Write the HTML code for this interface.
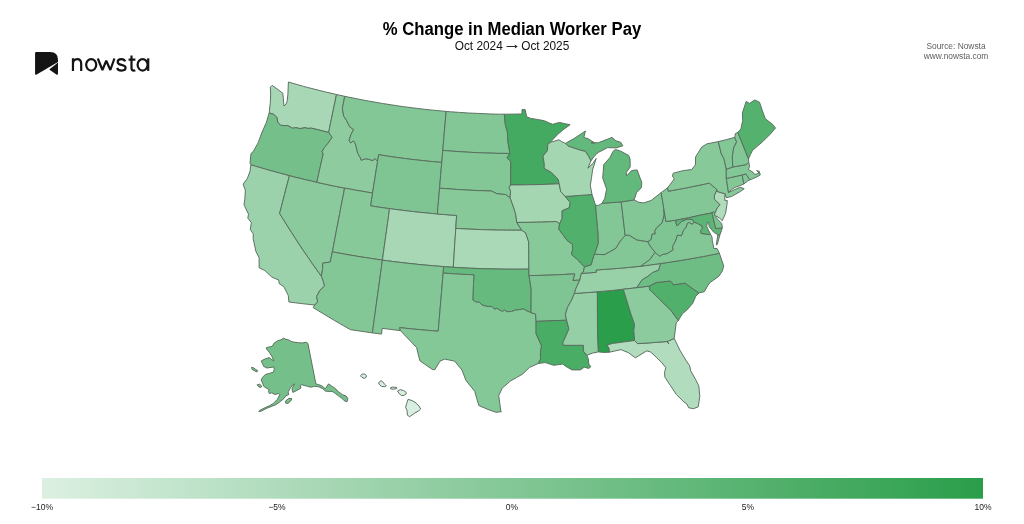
<!DOCTYPE html>
<html><head><meta charset="utf-8"><title>% Change in Median Worker Pay</title>
<style>
html,body{margin:0;padding:0;background:#fff;}
body{width:1024px;height:524px;position:relative;overflow:hidden;font-family:"Liberation Sans",sans-serif;}
svg{position:absolute;left:0;top:0;}
.title{will-change:transform;position:absolute;left:0;width:1024px;top:20.3px;transform:scaleY(1.05);transform-origin:50% 80%;text-align:center;font-weight:bold;font-size:16.7px;line-height:20px;color:#000;letter-spacing:0px;}
.sub{will-change:transform;position:absolute;left:0;width:1024px;top:39.4px;text-align:center;font-size:11.85px;line-height:14px;color:#111;}
.src{will-change:transform;position:absolute;left:895.75px;width:120px;top:40.6px;text-align:center;font-size:8.4px;line-height:10.2px;color:#5e5e5e;}
.tick{position:absolute;top:501.8px;will-change:transform;width:60px;margin-left:-30px;text-align:center;font-size:8.5px;line-height:11px;color:#1a1a1a;transform:scaleY(1.06);}
</style></head><body>
<svg width="1024" height="524" viewBox="0 0 1024 524">
<defs><linearGradient id="cb" x1="0" x2="1" y1="0" y2="0"><stop offset="0%" stop-color="#dcf0e2"/><stop offset="10%" stop-color="#cae8d3"/><stop offset="20%" stop-color="#b8e0c4"/><stop offset="30%" stop-color="#a7d7b4"/><stop offset="40%" stop-color="#95cfa5"/><stop offset="50%" stop-color="#83c796"/><stop offset="60%" stop-color="#71bf87"/><stop offset="70%" stop-color="#5fb778"/><stop offset="80%" stop-color="#4eae68"/><stop offset="90%" stop-color="#3ca659"/><stop offset="100%" stop-color="#2a9e4a"/></linearGradient></defs>
<g stroke="#586c5e" stroke-width="0.95" stroke-linejoin="round"><path fill="#a7d7b4" d="M288.4,82.0L287.9,94.1L287.2,100.8L286.0,104.1L283.9,106.0L283.4,98.8L282.7,93.1L272.2,85.3L270.3,87.2L270.7,94.1L270.3,102.7L269.2,112.9L273.5,114.3L276.8,117.2L277.8,122.4L280.6,125.3L284.0,125.6L287.8,125.6L292.5,128.2L295.9,127.7L300.2,128.6L305.0,127.7L307.8,128.4L311.6,128.2L319.3,130.1L328.8,132.5L329.4,128.6L336.5,94.5L331.0,93.2L325.6,92.0L320.1,90.6L316.0,89.6L311.9,88.5L307.7,87.5L303.6,86.4Z"/>
<path fill="#75c08a" d="M269.2,112.9L273.5,114.3L276.8,117.2L277.8,122.4L280.6,125.3L284.0,125.6L287.8,125.6L292.5,128.2L295.9,127.7L300.2,128.6L305.0,127.7L307.8,128.4L311.6,128.2L319.3,130.1L328.8,132.5L332.2,137.4L326.9,144.8L324.4,147.6L322.1,151.7L323.2,153.9L321.9,159.6L320.2,167.1L318.5,174.7L316.8,182.3L311.3,181.0L305.8,179.8L300.3,178.4L294.8,177.1L289.4,175.7L284.5,174.4L279.7,173.1L274.9,171.8L270.1,170.5L265.3,169.1L260.5,167.7L255.7,166.3L250.9,164.8L250.0,163.2L251.0,153.5L253.0,151.9L258.2,142.7L261.7,133.0L266.4,122.3Z"/>
<path fill="#9cd2ab" d="M250.9,164.8L255.7,166.3L260.5,167.7L265.3,169.1L270.1,170.5L274.9,171.8L279.7,173.1L284.5,174.4L289.4,175.7L287.8,182.0L286.1,188.2L284.5,194.5L282.9,200.8L281.3,207.1L279.6,213.4L283.5,219.7L287.5,226.1L291.5,232.4L295.6,238.7L299.7,245.0L303.9,251.3L308.2,257.5L312.5,263.8L316.9,270.0L321.4,276.2L323.0,280.5L324.6,286.0L319.9,290.4L316.6,296.4L317.7,301.9L314.7,305.0L308.2,304.3L301.8,303.6L295.3,302.8L288.9,302.0L288.3,295.6L283.8,286.6L279.1,283.5L278.8,280.1L271.9,277.1L264.9,270.6L259.1,267.7L259.1,257.7L255.9,251.4L253.1,238.5L253.3,233.9L250.3,229.6L251.3,222.5L247.8,218.1L248.5,214.2L244.0,204.8L244.9,198.3L245.3,190.2L243.1,184.1L247.3,178.6L250.0,171.3Z"/>
<path fill="#8aca9c" d="M289.4,175.7L294.8,177.1L300.3,178.4L305.8,179.8L311.3,181.0L316.8,182.3L322.3,183.5L327.9,184.7L333.4,185.9L339.0,187.0L344.6,188.1L343.4,194.5L342.1,200.8L340.9,207.2L339.7,213.6L338.5,219.9L337.2,226.3L336.0,232.7L334.8,239.1L333.6,245.5L332.3,251.8L330.3,262.0L327.0,262.5L322.7,263.2L322.7,268.5L321.4,276.2L316.9,270.0L312.5,263.8L308.2,257.5L303.9,251.3L299.7,245.0L295.6,238.7L291.5,232.4L287.5,226.1L283.5,219.7L279.6,213.4L281.3,207.1L282.9,200.8L284.5,194.5L286.1,188.2L287.8,182.0Z"/>
<path fill="#8ecc9f" d="M336.5,94.5L344.7,96.3L342.4,108.6L343.6,115.8L346.7,120.8L350.0,127.2L353.6,129.4L351.0,134.4L349.0,140.8L350.8,143.0L353.3,140.8L355.0,143.0L356.5,148.0L357.6,153.0L360.1,157.3L361.2,160.2L365.8,158.7L369.4,159.5L372.9,160.5L375.1,158.5L377.6,161.5L376.3,169.3L375.1,177.2L373.8,185.1L372.5,193.0L366.9,192.1L361.3,191.1L355.7,190.2L350.2,189.1L344.6,188.1L339.0,187.0L333.4,185.9L327.9,184.7L322.3,183.5L316.8,182.3L318.5,174.7L320.2,167.1L321.9,159.6L323.2,153.9L322.1,151.7L324.4,147.6L326.9,144.8L332.2,137.4L328.8,132.5L329.4,128.6Z"/>
<path fill="#83c796" d="M344.7,96.3L348.9,97.2L353.1,98.0L357.3,98.9L361.5,99.7L365.7,100.5L369.9,101.3L374.1,102.0L378.3,102.7L382.5,103.5L386.7,104.1L390.9,104.8L395.2,105.4L399.4,106.1L403.6,106.7L407.9,107.2L412.1,107.8L416.3,108.3L420.6,108.8L424.8,109.3L429.1,109.8L433.3,110.2L437.6,110.6L441.8,111.0L446.1,111.4L445.6,117.9L445.0,124.4L444.4,130.9L443.9,137.4L443.3,143.9L442.8,150.4L441.8,162.4L437.2,162.0L432.7,161.6L428.2,161.2L423.7,160.7L419.2,160.2L414.6,159.7L410.1,159.2L405.6,158.6L401.1,158.0L396.6,157.4L392.1,156.8L387.6,156.1L383.1,155.4L378.6,154.7L377.6,161.5L375.1,158.5L372.9,160.5L369.4,159.5L365.8,158.7L361.2,160.2L360.1,157.3L357.6,153.0L356.5,148.0L355.0,143.0L353.3,140.8L350.8,143.0L349.0,140.8L351.0,134.4L353.6,129.4L350.0,127.2L346.7,120.8L343.6,115.8L342.4,108.6Z"/>
<path fill="#7fc593" d="M441.8,162.4L437.2,162.0L432.7,161.6L428.2,161.2L423.7,160.7L419.2,160.2L414.6,159.7L410.1,159.2L405.6,158.6L401.1,158.0L396.6,157.4L392.1,156.8L387.6,156.1L383.1,155.4L378.6,154.7L377.6,161.5L376.3,169.3L375.1,177.2L373.8,185.1L372.5,193.0L371.5,199.4L370.5,205.8L375.2,206.6L380.0,207.3L384.8,208.0L389.5,208.6L394.3,209.3L399.1,209.9L403.9,210.5L408.6,211.1L413.4,211.6L418.2,212.2L423.0,212.6L427.8,213.1L432.6,213.6L437.4,214.0L437.9,207.5L438.5,201.1L439.0,194.6L439.6,188.2L440.1,181.7L440.7,175.3L441.2,168.8Z"/>
<path fill="#87c999" d="M344.6,188.1L350.2,189.1L355.7,190.2L361.3,191.1L366.9,192.1L372.5,193.0L371.5,199.4L370.5,205.8L375.2,206.6L380.0,207.3L384.8,208.0L389.5,208.6L388.7,215.1L387.8,221.5L386.9,227.9L386.0,234.4L385.1,240.8L384.2,247.2L383.3,253.7L382.4,260.1L376.8,259.3L371.3,258.5L365.7,257.6L360.1,256.8L354.5,255.8L349.0,254.9L343.4,253.9L337.9,252.9L332.3,251.8L333.6,245.5L334.8,239.1L336.0,232.7L337.2,226.3L338.5,219.9L339.7,213.6L340.9,207.2L342.1,200.8L343.4,194.5Z"/>
<path fill="#a7d7b4" d="M437.4,214.0L432.6,213.6L427.8,213.1L423.0,212.6L418.2,212.2L413.4,211.6L408.6,211.1L403.9,210.5L399.1,209.9L394.3,209.3L389.5,208.6L388.7,215.1L387.8,221.5L386.9,227.9L386.0,234.4L385.1,240.8L384.2,247.2L383.3,253.7L382.4,260.1L387.5,260.8L392.6,261.5L397.7,262.1L402.8,262.7L407.9,263.3L413.0,263.8L418.1,264.4L423.2,264.9L428.3,265.3L433.4,265.8L438.5,266.2L443.6,266.6L453.3,267.3L453.7,260.8L454.1,254.3L454.5,247.8L454.9,241.3L455.4,234.8L455.8,228.4L456.2,221.9L456.6,215.4L451.8,215.1L447.0,214.7L442.2,214.4Z"/>
<path fill="#83c796" d="M382.4,260.1L376.8,259.3L371.3,258.5L365.7,257.6L360.1,256.8L354.5,255.8L349.0,254.9L343.4,253.9L337.9,252.9L332.3,251.8L330.3,262.0L327.0,262.5L322.7,263.2L322.7,268.5L321.4,276.2L323.0,280.5L324.6,286.0L319.9,290.4L316.6,296.4L317.7,301.9L314.7,305.0L313.2,307.6L318.4,310.8L323.7,314.0L329.0,317.2L334.3,320.4L339.7,323.5L345.1,326.6L350.5,329.7L356.0,330.5L361.4,331.3L366.9,332.1L372.4,332.9L373.3,326.3L374.2,319.7L375.1,313.1L376.0,306.5L376.9,299.9L377.8,293.3L378.8,286.6L379.7,280.0L380.6,273.4L381.5,266.7Z"/>
<path fill="#83c796" d="M443.6,266.6L438.5,266.2L433.4,265.8L428.3,265.3L423.2,264.9L418.1,264.4L413.0,263.8L407.9,263.3L402.8,262.7L397.7,262.1L392.6,261.5L387.5,260.8L382.4,260.1L381.5,266.7L380.6,273.4L379.7,280.0L378.8,286.6L377.8,293.3L376.9,299.9L376.0,306.5L375.1,313.1L374.2,319.7L373.3,326.3L372.4,332.9L381.5,334.1L382.2,328.4L388.3,329.1L394.3,329.9L400.4,330.6L399.7,327.6L405.2,328.2L410.7,328.8L416.2,329.3L421.7,329.8L427.2,330.3L432.7,330.8L438.2,331.2L438.8,324.8L439.3,318.3L439.9,311.9L440.4,305.4L441.0,298.9L441.5,292.5L442.1,286.0L442.6,279.5L443.2,273.1Z"/>
<path fill="#83c796" d="M446.1,111.4L450.6,111.8L455.0,112.1L459.5,112.4L464.0,112.7L468.5,113.0L472.9,113.2L477.4,113.4L481.9,113.6L486.4,113.8L490.9,114.0L495.3,114.1L499.8,114.2L504.3,114.2L505.3,124.4L507.4,132.1L507.8,141.1L509.8,152.6L509.8,153.5L505.0,153.4L500.2,153.4L495.4,153.3L490.6,153.1L485.8,153.0L481.1,152.8L476.3,152.6L471.5,152.4L466.7,152.1L461.9,151.8L457.1,151.5L452.3,151.2L447.6,150.8L442.8,150.4L443.3,143.9L443.9,137.4L444.4,130.9L445.0,124.4L445.6,117.9Z"/>
<path fill="#83c796" d="M509.8,153.5L505.0,153.4L500.2,153.4L495.4,153.3L490.6,153.1L485.8,153.0L481.1,152.8L476.3,152.6L471.5,152.4L466.7,152.1L461.9,151.8L457.1,151.5L452.3,151.2L447.6,150.8L442.8,150.4L441.8,162.4L441.2,168.8L440.7,175.3L440.1,181.7L439.6,188.2L444.3,188.5L449.0,188.9L453.7,189.2L458.4,189.6L463.1,189.8L467.8,190.1L472.6,190.3L477.3,190.6L482.0,190.7L486.7,190.9L491.4,191.0L497.0,193.8L505.4,194.5L510.1,197.8L510.6,191.3L509.2,187.4L510.6,184.9L510.7,177.1L510.7,169.4L510.8,161.6L507.2,157.8Z"/>
<path fill="#87c999" d="M510.1,197.8L505.4,194.5L497.0,193.8L491.4,191.0L486.7,190.9L482.0,190.7L477.3,190.6L472.6,190.3L467.8,190.1L463.1,189.8L458.4,189.6L453.7,189.2L449.0,188.9L444.3,188.5L439.6,188.2L439.0,194.6L438.5,201.1L437.9,207.5L437.4,214.0L442.2,214.4L447.0,214.7L451.8,215.1L456.6,215.4L456.2,221.9L455.8,228.4L460.8,228.7L465.9,229.0L471.0,229.2L476.0,229.4L481.1,229.6L486.2,229.8L491.2,229.9L496.3,230.1L501.4,230.1L506.4,230.2L511.5,230.2L516.6,230.2L521.7,230.2L516.8,222.5L515.8,214.7L513.9,208.2Z"/>
<path fill="#aad9b7" d="M521.7,230.2L516.6,230.2L511.5,230.2L506.4,230.2L501.4,230.1L496.3,230.1L491.2,229.9L486.2,229.8L481.1,229.6L476.0,229.4L471.0,229.2L465.9,229.0L460.8,228.7L455.8,228.4L455.4,234.8L454.9,241.3L454.5,247.8L454.1,254.3L453.7,260.8L453.3,267.3L458.7,267.6L464.1,267.9L469.5,268.2L474.9,268.4L480.3,268.6L485.7,268.8L491.1,268.9L496.5,269.0L501.9,269.1L507.3,269.2L512.7,269.2L518.1,269.2L523.5,269.2L528.9,269.1L528.8,262.3L528.8,255.5L528.7,248.7L528.7,241.8L525.6,232.8Z"/>
<path fill="#67ba7e" d="M528.9,269.1L523.5,269.2L518.1,269.2L512.7,269.2L507.3,269.2L501.9,269.1L496.5,269.0L491.1,268.9L485.7,268.8L480.3,268.6L474.9,268.4L469.5,268.2L464.1,267.9L458.7,267.6L453.3,267.3L443.6,266.6L443.2,273.1L448.3,273.4L453.4,273.8L458.5,274.1L463.6,274.4L468.7,274.6L473.9,274.9L473.5,283.2L473.1,291.6L472.8,300.0L476.1,302.1L479.5,302.3L481.8,304.9L486.9,306.4L492.1,306.6L494.4,309.2L496.7,308.4L502.4,311.5L504.7,310.1L507.0,311.8L511.5,311.5L515.5,310.1L520.1,309.5L523.6,308.9L527.0,311.0L531.0,312.6L531.2,289.5L529.0,275.6Z"/>
<path fill="#85c898" d="M531.0,312.6L527.0,311.0L523.6,308.9L520.1,309.5L515.5,310.1L511.5,311.5L507.0,311.8L504.7,310.1L502.4,311.5L496.7,308.4L494.4,309.2L492.1,306.6L486.9,306.4L481.8,304.9L479.5,302.3L476.1,302.1L472.8,300.0L473.1,291.6L473.5,283.2L473.9,274.9L468.7,274.6L463.6,274.4L458.5,274.1L453.4,273.8L448.3,273.4L443.2,273.1L442.6,279.5L442.1,286.0L441.5,292.5L441.0,298.9L440.4,305.4L439.9,311.9L439.3,318.3L438.8,324.8L438.2,331.2L432.7,330.8L427.2,330.3L421.7,329.8L416.2,329.3L410.7,328.8L405.2,328.2L399.7,327.6L400.4,330.6L405.6,336.1L411.1,341.8L416.6,347.5L418.2,354.2L419.9,360.8L426.2,365.2L432.7,369.6L434.9,369.7L440.0,361.1L444.6,359.1L454.6,361.1L462.0,370.1L466.0,380.6L474.7,391.2L476.7,398.4L478.8,405.5L488.0,409.5L496.1,412.3L501.4,411.7L500.8,411.1L499.8,403.4L498.7,395.7L502.3,388.1L510.3,381.1L516.5,377.6L522.7,374.0L529.4,367.5L538.4,363.4L540.7,358.8L540.4,353.4L541.5,345.8L536.1,333.6L536.1,321.4L535.6,314.1Z"/>
<path fill="#45aa61" d="M504.3,114.2L522.0,114.0L522.0,109.6L525.1,109.6L526.7,116.7L530.7,118.4L537.4,119.4L544.1,120.7L548.7,122.7L552.7,124.3L559.4,122.4L565.4,123.8L570.1,124.7L562.8,130.0L557.4,134.7L550.1,142.5L547.8,144.1L547.4,150.7L543.0,156.1L544.1,162.8L544.4,165.7L544.0,168.3L551.5,172.5L558.2,179.3L559.2,183.8L554.4,184.0L549.5,184.2L544.7,184.4L539.8,184.5L534.9,184.7L530.1,184.7L525.2,184.8L520.4,184.9L515.5,184.9L510.6,184.9L510.7,177.1L510.7,169.4L510.8,161.6L507.2,157.8L509.8,153.5L509.8,152.6L507.8,141.1L507.4,132.1L505.3,124.4Z"/>
<path fill="#a3d6b1" d="M559.2,183.8L554.4,184.0L549.5,184.2L544.7,184.4L539.8,184.5L534.9,184.7L530.1,184.7L525.2,184.8L520.4,184.9L515.5,184.9L510.6,184.9L509.2,187.4L510.6,191.3L510.1,197.8L513.9,208.2L515.8,214.7L516.8,222.5L521.7,222.4L526.7,222.4L531.7,222.3L536.6,222.2L541.6,222.1L546.5,221.9L551.5,221.7L556.5,221.5L559.5,224.0L562.1,218.6L562.2,210.8L569.2,207.8L570.3,202.6L565.2,196.4L560.7,191.5Z"/>
<path fill="#87c999" d="M559.5,224.0L556.5,221.5L551.5,221.7L546.5,221.9L541.6,222.1L536.6,222.2L531.7,222.3L526.7,222.4L521.7,222.4L516.8,222.5L521.7,230.2L525.6,232.8L528.7,241.8L528.7,248.7L528.8,255.5L528.8,262.3L528.9,269.1L529.0,275.6L534.7,275.5L540.4,275.4L546.1,275.2L551.9,275.0L557.6,274.8L563.3,274.5L569.0,274.2L574.7,273.9L572.9,280.5L579.8,280.1L581.4,273.4L583.3,272.0L584.5,266.7L580.7,263.1L577.4,259.4L571.5,254.5L572.7,249.3L572.4,244.1L567.2,240.5L563.5,235.5L558.8,229.2Z"/>
<path fill="#7fc593" d="M579.8,280.1L572.9,280.5L574.7,273.9L569.0,274.2L563.3,274.5L557.6,274.8L551.9,275.0L546.1,275.2L540.4,275.4L534.7,275.5L529.0,275.6L531.2,289.5L531.0,312.6L535.6,314.1L536.1,321.4L566.6,320.2L565.4,314.5L567.4,307.6L571.6,300.1L574.4,293.4L576.1,288.1Z"/>
<path fill="#4aad65" d="M566.6,320.2L536.1,321.4L536.1,333.6L541.5,345.8L540.4,353.4L540.7,358.8L538.4,363.4L545.3,362.6L553.7,365.3L562.8,364.1L565.9,366.4L572.0,369.9L580.4,369.9L584.2,367.2L588.8,368.4L590.8,366.7L588.8,364.1L588.3,358.8L586.8,355.3L583.4,351.1L583.4,345.3L563.3,345.3L562.8,342.7L565.9,335.9L568.9,329.0Z"/>
<path fill="#95cfa5" d="M596.3,291.8L590.8,292.3L585.3,292.7L579.8,293.1L574.4,293.4L571.6,300.1L567.4,307.6L565.4,314.5L566.6,320.2L568.9,329.0L565.9,335.9L562.8,342.7L563.3,345.3L583.4,345.3L583.4,351.1L586.8,355.3L592.6,353.1L598.4,351.9L597.5,330.5L597.4,293.1Z"/>
<path fill="#2a9e4a" d="M596.3,291.8L601.7,291.4L607.1,290.9L612.5,290.4L617.9,289.8L623.3,289.2L630.8,313.7L634.6,324.4L633.8,330.5L634.6,340.5L612.4,343.5L607.1,345.0L609.1,348.5L609.4,352.2L604.0,352.4L598.4,351.9L597.5,330.5L597.4,293.1Z"/>
<path fill="#98d1a8" d="M581.4,273.4L588.8,272.9L596.2,272.3L596.0,270.0L601.6,269.6L607.1,269.2L612.7,268.8L618.3,268.4L623.8,267.9L629.4,267.4L635.0,266.8L640.5,266.3L645.6,265.6L650.7,264.9L655.8,264.2L660.8,263.5L658.5,270.3L652.6,272.5L647.9,276.4L642.1,279.8L636.8,287.7L630.0,288.5L623.3,289.2L617.9,289.8L612.5,290.4L607.1,290.9L601.7,291.4L596.3,291.8L590.8,292.3L585.3,292.7L579.8,293.1L574.4,293.4L576.1,288.1L579.8,280.1Z"/>
<path fill="#83c796" d="M584.5,266.7L583.3,272.0L581.4,273.4L588.8,272.9L596.2,272.3L596.0,270.0L601.6,269.6L607.1,269.2L612.7,268.8L618.3,268.4L623.8,267.9L629.4,267.4L635.0,266.8L640.5,266.3L649.7,259.8L655.1,252.4L652.0,248.4L648.7,243.7L648.0,241.7L636.9,239.9L628.8,235.0L625.1,235.4L620.0,241.3L615.8,248.3L610.1,251.5L604.3,254.6L599.2,254.4L594.2,254.2L591.0,264.9Z"/>
<path fill="#51b06b" d="M592.0,194.5L586.7,194.9L581.3,195.3L576.0,195.7L570.6,196.1L565.2,196.4L570.3,202.6L569.2,207.8L562.2,210.8L562.1,218.6L559.5,224.0L558.8,229.2L563.5,235.5L567.2,240.5L572.4,244.1L572.7,249.3L571.5,254.5L577.4,259.4L580.7,263.1L584.5,266.7L591.0,264.9L594.2,254.2L595.1,252.8L598.3,243.4L598.2,235.0L597.5,227.6L596.9,220.2L596.2,212.8L595.6,205.4Z"/>
<path fill="#83c796" d="M595.6,205.4L598.7,205.3L602.1,203.2L606.9,202.9L611.7,202.6L616.4,202.3L621.2,201.9L622.0,208.6L622.8,215.3L623.6,222.0L624.4,228.7L625.1,235.4L620.0,241.3L615.8,248.3L610.1,251.5L604.3,254.6L599.2,254.4L594.2,254.2L595.1,252.8L598.3,243.4L598.2,235.0L597.5,227.6L596.9,220.2L596.2,212.8Z"/>
<path fill="#83c796" d="M621.2,201.9L627.6,200.9L634.1,199.9L638.8,202.3L643.7,202.9L651.1,200.5L656.1,196.6L661.2,192.6L662.6,201.2L664.0,209.8L664.2,215.0L662.1,223.0L656.7,227.7L654.7,231.1L655.4,233.7L652.0,234.4L651.1,239.7L648.0,241.7L636.9,239.9L628.8,235.0L625.1,235.4L624.4,228.7L623.6,222.0L622.8,215.3L622.0,208.6Z"/>
<path fill="#63b87b" d="M602.1,203.2L604.7,198.5L606.6,189.2L602.7,177.9L603.2,171.4L603.7,164.8L609.8,157.7L613.5,150.8L615.6,149.5L620.8,151.2L628.6,155.4L630.1,159.1L630.2,166.9L626.3,172.6L626.7,175.8L631.6,170.6L637.1,169.9L639.4,176.1L641.7,182.3L641.5,187.5L636.5,192.8L634.1,199.9L627.6,200.9L621.2,201.9L616.4,202.3L611.7,202.6L606.9,202.9ZM565.4,143.4L574.8,138.1L585.4,131.0L583.8,137.4L588.1,138.7L594.8,143.0L591.1,142.8L598.3,142.7L602.8,141.0L607.4,139.2L612.0,137.4L615.9,140.8L620.6,142.2L622.8,145.8L615.9,147.9L607.7,147.6L603.0,150.0L598.3,152.4L595.0,155.3L590.9,160.9L588.8,156.7L585.4,151.4L580.1,150.1L568.1,146.1Z"/>
<path fill="#a3d6b1" d="M550.1,142.5L558.7,139.8L561.4,141.4L565.4,143.4L568.1,146.1L580.1,150.1L585.4,151.4L588.8,156.7L590.9,160.9L587.9,168.2L593.0,163.3L596.2,158.4L592.6,169.8L591.5,177.7L590.3,185.5L592.0,194.5L586.7,194.9L581.3,195.3L576.0,195.7L570.6,196.1L565.2,196.4L560.7,191.5L559.2,183.8L558.2,179.3L551.5,172.5L544.0,168.3L544.4,165.7L544.1,162.8L543.0,156.1L547.4,150.7L547.8,144.1Z"/>
<path fill="#b1dcbe" d="M634.6,340.5L612.4,343.5L607.1,345.0L609.1,348.5L609.4,352.2L621.0,349.6L628.6,352.8L635.3,357.8L646.7,350.9L650.6,352.0L656.3,357.2L662.0,362.9L665.8,367.7L664.5,372.5L664.9,377.2L670.6,385.8L676.3,394.4L683.9,402.0L686.8,403.9L688.7,407.8L693.5,408.7L698.2,406.8L699.8,396.3L698.8,385.8L695.4,379.1L690.6,370.6L689.7,365.8L685.8,360.1L680.1,350.5L674.2,338.4L666.9,341.7L668.9,343.9L666.8,341.5L661.0,342.0L655.1,342.4L649.2,342.9L643.4,343.3L637.5,343.6Z"/>
<path fill="#8ccb9e" d="M636.8,287.7L630.0,288.5L623.3,289.2L630.8,313.7L634.6,324.4L633.8,330.5L634.6,340.5L637.5,343.6L643.4,343.3L649.2,342.9L655.1,342.4L661.0,342.0L666.8,341.5L668.9,343.9L666.9,341.7L674.2,338.4L675.2,330.7L676.2,322.7L678.3,320.6L671.0,310.4L664.0,303.6L655.9,295.6L649.8,289.9L649.2,286.1L643.0,286.9Z"/>
<path fill="#51b06b" d="M698.9,293.0L691.9,288.1L685.1,283.1L679.2,284.0L673.4,284.8L671.2,281.5L670.1,281.0L663.1,281.8L656.1,282.5L649.2,286.1L649.8,289.9L655.9,295.6L664.0,303.6L671.0,310.4L678.3,320.6L682.4,313.8L687.2,309.7L692.6,303.5L695.7,296.4Z"/>
<path fill="#6ebd84" d="M719.4,253.3L714.1,254.4L708.8,255.4L703.5,256.5L698.2,257.4L692.8,258.4L687.5,259.3L682.2,260.2L676.9,261.1L671.5,261.9L666.2,262.7L660.8,263.5L658.5,270.3L652.6,272.5L647.9,276.4L642.1,279.8L636.8,287.7L643.0,286.9L649.2,286.1L656.1,282.5L663.1,281.8L670.1,281.0L671.2,281.5L673.4,284.8L679.2,284.0L685.1,283.1L691.9,288.1L698.9,293.0L704.3,291.7L707.7,285.7L710.3,282.3L713.7,280.0L718.9,276.2L722.3,271.1L723.7,265.9L721.4,259.1Z"/>
<path fill="#83c796" d="M719.4,253.3L714.1,254.4L708.8,255.4L703.5,256.5L698.2,257.4L692.8,258.4L687.5,259.3L682.2,260.2L676.9,261.1L671.5,261.9L666.2,262.7L660.8,263.5L655.8,264.2L650.7,264.9L645.6,265.6L640.5,266.3L649.7,259.8L655.1,252.4L656.7,253.8L659.6,256.2L662.7,254.4L667.4,253.5L673.0,249.8L672.5,246.4L675.4,241.1L677.4,235.1L681.4,235.7L683.4,230.4L686.1,227.1L687.4,223.3L688.8,222.4L692.1,224.1L694.2,222.4L696.3,222.9L702.0,225.8L702.5,228.6L700.6,230.5L701.1,233.4L709.6,234.6L710.6,234.4L712.0,237.0L712.3,240.9L713.9,248.5L717.0,248.5ZM720.0,234.6L717.3,244.4L716.3,244.9L717.8,234.8Z"/>
<path fill="#7fc593" d="M664.0,209.8L664.2,215.0L662.1,223.0L656.7,227.7L654.7,231.1L655.4,233.7L652.0,234.4L651.1,239.7L648.0,241.7L648.7,243.7L652.0,248.4L655.1,252.4L656.7,253.8L659.6,256.2L662.7,254.4L667.4,253.5L673.0,249.8L672.5,246.4L675.4,241.1L677.4,235.1L681.4,235.7L683.4,230.4L686.1,227.1L687.4,223.3L688.8,222.4L692.1,224.1L694.2,222.4L692.5,219.6L688.6,219.1L685.8,219.6L681.5,221.5L677.2,226.0L676.2,223.9L675.8,220.2L665.9,221.5Z"/>
<path fill="#83c796" d="M667.7,187.7L661.2,192.6L662.6,201.2L664.0,209.8L665.9,221.5L675.8,220.2L688.6,217.8L700.1,215.2L712.0,212.9L713.5,211.7L714.9,213.4L717.3,207.9L720.1,204.6L714.4,199.2L714.5,195.2L717.2,189.8L709.3,183.1L704.2,184.2L699.1,185.3L694.0,186.3L688.9,187.4L683.7,188.4L678.6,189.3L673.4,190.3L668.3,191.2Z"/>
<path fill="#5cb575" d="M675.8,220.2L688.6,217.8L700.1,215.2L712.0,212.9L715.7,228.4L722.1,228.0L721.6,230.5L720.0,234.6L717.8,234.8L713.5,232.0L709.2,226.7L708.7,222.4L707.4,222.1L706.8,226.7L710.6,234.4L709.6,234.6L701.1,233.4L700.6,230.5L702.5,228.6L702.0,225.8L696.3,222.9L694.2,222.4L692.5,219.6L688.6,219.1L685.8,219.6L681.5,221.5L677.2,226.0L676.2,223.9Z"/>
<path fill="#7ac38e" d="M712.0,212.9L715.7,228.4L722.1,228.0L722.6,227.7L721.6,223.4L716.3,217.7L714.9,213.4L713.5,211.7Z"/>
<path fill="#b0dcbc" d="M714.9,213.4L714.4,215.2L719.6,218.0L722.2,220.8L725.6,213.3L727.0,204.3L727.3,200.5L724.5,200.2L725.0,199.1L724.5,197.6L725.3,193.9L716.7,191.3L717.2,189.8L714.5,195.2L714.4,199.2L720.1,204.6L717.3,207.9Z"/>
<path fill="#87c999" d="M718.3,141.6L706.8,143.9L701.8,147.0L695.6,156.9L695.4,164.9L691.6,169.6L683.2,170.6L678.3,171.9L673.3,173.2L672.4,176.0L674.3,178.9L667.7,187.7L668.3,191.2L673.4,190.3L678.6,189.3L683.7,188.4L688.9,187.4L694.0,186.3L699.1,185.3L704.2,184.2L709.3,183.1L717.2,189.8L716.7,191.3L725.3,193.9L726.0,197.6L727.0,197.5L731.6,196.5L735.6,194.2L740.2,191.6L744.2,188.7L740.5,187.3L736.8,188.5L732.2,190.8L728.5,192.5L727.9,188.7L726.3,178.5L726.3,169.2L723.9,158.5L721.3,153.8Z"/>
<path fill="#83c796" d="M742.1,175.0L736.8,176.2L731.6,177.3L726.3,178.5L727.9,188.7L728.5,192.5L731.6,189.6L735.0,187.3L740.2,185.6L743.9,183.9Z"/>
<path fill="#83c796" d="M750.0,179.8L747.2,175.9L745.9,173.9L742.1,175.0L743.9,183.9L747.6,181.1Z"/>
<path fill="#83c796" d="M748.8,162.5L745.8,164.7L732.8,167.0L726.3,169.2L726.3,178.5L731.6,177.3L736.8,176.2L742.1,175.0L745.9,173.9L747.2,175.9L750.0,179.8L754.7,177.9L760.3,175.0L759.2,171.2L756.6,170.6L759.3,173.2L754.7,174.5L753.1,172.3L748.4,169.5L749.6,166.5Z"/>
<path fill="#83c796" d="M718.3,141.6L726.7,139.6L734.8,137.3L736.6,141.9L733.6,148.0L732.3,157.1L732.8,167.0L726.3,169.2L723.9,158.5L721.3,153.8Z"/>
<path fill="#83c796" d="M734.8,137.3L735.4,133.5L737.8,132.4L748.5,158.9L748.8,162.5L745.8,164.7L732.8,167.0L732.3,157.1L733.6,148.0L736.6,141.9Z"/>
<path fill="#55b26e" d="M737.8,132.4L740.9,128.9L742.7,120.5L742.4,112.9L746.2,101.4L749.6,103.4L754.6,99.9L759.5,102.2L761.8,109.1L765.3,118.7L772.5,124.3L775.5,128.1L770.2,134.2L763.3,141.1L752.6,150.3L750.3,154.8L748.5,158.9Z"/>
<path fill="#75c08a" d="M283.4,338.2L285.9,339.3L288.5,339.8L291.2,341.4L293.7,342.1L298.5,342.7L302.1,343.0L305.8,342.2L307.9,343.4L315.9,383.9L318.8,384.7L322.1,386.0L325.3,388.8L328.5,383.9L332.3,386.5L334.7,388.0L338.8,392.0L342.8,394.9L346.2,396.1L347.9,398.5L347.0,401.8L344.0,400.6L341.9,398.2L339.4,396.6L335.4,393.5L332.3,391.4L329.4,391.5L325.3,391.1L322.9,388.8L318.8,386.8L314.8,386.3L310.7,387.2L307.5,386.3L304.2,385.5L301.8,384.7L300.2,385.5L301.0,388.0L296.9,390.4L292.9,392.4L292.0,388.8L294.5,383.9L292.9,384.7L290.4,388.0L288.0,392.0L288.8,394.5L285.6,396.1L283.9,398.5L279.9,401.8L275.8,404.7L271.0,406.6L266.1,408.6L261.2,411.2L258.8,411.5L259.6,410.4L264.5,407.9L269.3,405.8L273.4,403.4L277.4,399.3L279.9,394.5L278.3,393.6L275.0,394.5L271.8,392.8L269.3,393.6L268.5,391.2L269.3,389.6L266.1,388.0L263.7,386.3L262.5,383.1L261.2,379.9L262.5,377.4L265.3,374.5L269.3,373.4L273.4,372.2L274.2,369.6L273.9,366.9L271.0,367.4L266.9,368.0L263.7,366.4L262.5,363.6L261.2,360.9L265.3,358.8L269.3,357.6L271.8,359.6L273.9,360.9L271.8,356.3L269.3,352.3L266.9,349.5L266.1,347.9L269.3,346.9L272.3,346.3L274.2,343.0L277.4,340.9L281.0,339.8ZM251.5,367.4L253.4,367.7L255.5,369.3L257.7,370.6L257.0,371.9L254.7,370.9L252.3,369.6ZM257.2,384.7L259.6,384.2L261.7,386.0L260.9,387.5L258.8,386.8ZM285.6,400.9L288.8,398.5L291.7,398.5L291.2,400.5L288.0,403.4L285.6,403.1Z"/>
<path fill="#d8eedf" d="M360.5,375.7L362.1,374.2L364.9,374.0L366.4,375.7L366.1,377.4L364.4,378.4L362.0,377.4ZM378.6,382.7L381.0,380.7L382.8,381.9L384.8,384.4L386.3,385.9L384.8,386.7L381.6,386.4L379.6,384.9ZM390.3,387.9L392.2,387.1L396.7,387.4L396.7,388.7L393.2,389.2L390.7,388.9ZM397.5,391.0L400.2,389.6L403.7,390.6L406.1,392.3L406.4,393.8L404.2,395.3L401.5,395.6L399.2,393.6ZM408.1,399.3L412.1,400.6L416.1,403.0L419.1,406.2L420.7,408.9L418.6,410.9L414.6,413.2L411.1,415.7L409.6,416.7L407.4,415.2L407.1,410.7L405.6,407.2L406.6,403.7Z"/></g>
<rect x="42" y="478" width="941" height="20.7" fill="url(#cb)"/>
<path d="M506.5,46.5 H515.6" stroke="#111" stroke-width="0.9" fill="none"/><path d="M517.7,46.5 L514.6,44.4 L515.4,46.5 L514.6,48.6Z" fill="#111"/>
<g id="logo">
<path d="M36.2,52.05 H50.2 Q58,52.05 58,59.8 V61.9 L36.7,74.5 Q35.05,75.3 35.05,73.4 V53.2 Q35.05,52.05 36.2,52.05Z" fill="#141414"/>
<path d="M58,62.55 V73.4 Q58,75.2 56.4,74.4 L49.2,69.6Z" fill="#141414"/>
<g fill="none" stroke="#141414" stroke-width="2.2" stroke-linejoin="round" transform="translate(0,0.7)">
<path d="M72.95,57.6 V70.2 M72.95,63.4 C72.95,60.3 74.7,58.5 77.2,58.5 C79.8,58.5 81.2,60.3 81.2,63.2 V70.2"/>
<ellipse cx="91.2" cy="64.1" rx="5.05" ry="5.75"/>
<path d="M97.8,57.8 L102.45,69.3 L106.25,60.0 L110.35,69.3 L114.4,57.8" stroke-linejoin="bevel"/>
<path d="M125.2,60.7 C124.6,59.2 123.2,58.35 121.4,58.35 C119.2,58.35 117.7,59.5 117.7,61.2 C117.7,62.9 119.0,63.6 121.5,64.1 C124.2,64.7 125.6,65.4 125.6,67.1 C125.6,68.8 124.0,69.85 121.5,69.85 C119.3,69.85 117.7,68.9 117.1,67.3"/>
<path d="M131.5,54.8 V67.4 C131.5,69.2 132.5,69.9 133.8,69.9 C134.4,69.9 134.9,69.8 135.3,69.6 M128.6,59 H135.4"/>
<ellipse cx="142.6" cy="64.1" rx="5.0" ry="5.75"/>
<path d="M148.2,57.6 V70.2"/>
</g>
</g>
</svg>
<div class="title">% Change in Median Worker Pay</div>
<div class="sub">Oct 2024 <span style="color:transparent">&#8594;</span> Oct 2025</div>
<div class="src">Source: Nowsta<br>www.nowsta.com</div>
<div class="tick" style="left:42px">&#8722;10%</div>
<div class="tick" style="left:277px">&#8722;5%</div>
<div class="tick" style="left:512px">0%</div>
<div class="tick" style="left:747.5px">5%</div>
<div class="tick" style="left:983px">10%</div>
</body></html>
